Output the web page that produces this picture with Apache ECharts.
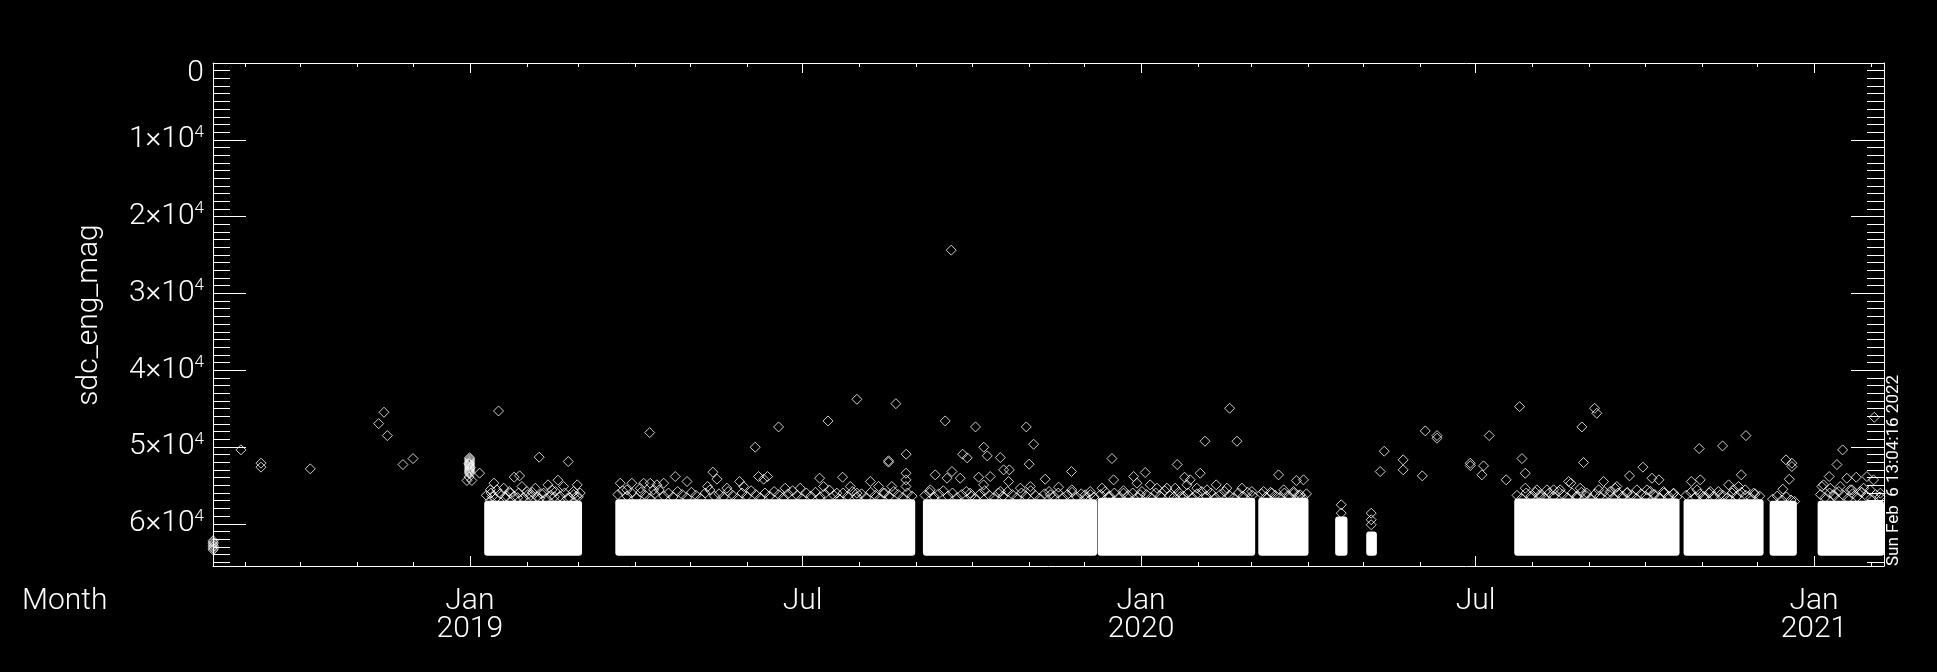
<!DOCTYPE html>
<html>
<head>
<meta charset="utf-8">
<script src="https://cdn.jsdelivr.net/npm/echarts@6/dist/echarts.min.js"></script>
<style>
html,body{margin:0;padding:0;background:#000;}
#chart{width:1937px;height:672px;}
</style>
</head>
<body>
<div id="chart"></div>
<script>
// ---------------- DATA ----------------
// x positions are "days since 2019-01-01 (UTC)"
const DAY0 = Date.UTC(2019, 0, 1);
const xMinDay = -139.7;   // 2018-08-14
const xMaxDay = 769.1;    // 2021-02-08
const yMin = 0;
const yMax = 65500;

// Dense data blocks (the solid white regions)
const blockStartDay = [7.8, 79.1, 246.4, 341.4, 428.8, 470.6, 487.5, 568.0, 660.1, 706.9, 733.0];
const blockEndDay   = [61.0, 242.2, 341.1, 427.1, 456.1, 477.3, 493.3, 657.9, 703.6, 721.7, 769.1];
const blockTop      = [57000, 56800, 56800, 56600, 56600, 59050, 61000, 56700, 56800, 57000, 57000];
const blockBottom   = [64150, 64150, 64150, 64150, 64150, 64150, 64150, 64150, 64150, 64150, 64150];

// Isolated diamonds [day, value]
const outlierPoints = [
  [-139.6,62200],[-139.6,62400],[-139.6,62600],[-139.6,62800],[-139.6,63000],[-139.6,63200],[-139.6,63400],
  [-124.5,50380],[-113.6,52110],[-113.6,52630],[-86.8,52850],
  [-49.6,46960],[-46.7,45480],[-44.9,48520],[-36.4,52290],[-30.9,51510],
  [-0.15,51400],[-0.15,51550],[-0.15,51700],[-0.15,51850],[-0.15,52000],[-0.15,52150],[-0.15,52300],
  [-0.15,52450],[-0.15,52600],[-0.15,52750],[-0.15,52900],[-0.15,53050],[-0.15,53200],[-0.15,53350],
  [-0.15,53500],[-0.6,52200],[0.3,52700],[-0.5,53900],[-1.6,54370],[1.1,54370],
  [5.3,53410],[15.6,45310],[37.7,51330],[53.5,51900],[47.9,54320],[58.4,54930],[42.5,54930],
  [13.1,54710],[11.1,55580],[12.2,56450],[11.1,56970],[24.1,53930],[27.05,53760],[97.8,48130],
  [261.8,24370],[210.5,43790],[231.7,44360],[194.8,46610],[167.9,47390],[155.2,50030],
  [258.5,46610],[275,47390],[302.6,47390],[306.6,49640],[279.5,50030],[281.4,51160],
  [268,50940],[270.5,51420],[288.5,51380],[304.2,52240],[290.3,52980],[293.4,52980],
  [327.2,53200],[237.3,50940],[227.7,51980],[227.7,51800],
  [413.2,44960],[399.8,49250],[417.2,49250],[349.2,51510],[384.7,52290],[397.2,53420],
  [388.7,53940],[391.8,54280],[439.8,53630],[449.5,54370],[453.4,54280],
  [473.9,57530],[473.9,58620],[490.2,58620],[490.2,59480],[490.2,60130],
  [497.3,50550],[495.1,53200],[507.6,51680],[507.6,52980],[518,53760],[519.6,47910],
  [526,48520],[526,48860],[544.1,52110],[544.1,52420],[551.3,52460],[550.4,53630],[554.4,48520],
  [563.6,54280],[570.9,44750],[572.2,51510],[574,53420],[574,55370],[604.8,47390],[605.7,52030],
  [611.7,44960],[612.9,45610],[630.7,53760],[638,52630],[597.6,54500],[598.8,54720],[616.6,54500],
  [642.9,54070],[646.7,54280],[623.8,55150],[668.6,50210],[681.3,49860],[694,48520],[691.5,53630],
  [664.3,54500],[669.2,54280],[684.6,54930],[690,55150],[715.8,51680],[719,52110],[719,52550],
  [717.6,54200],[714.1,55500],[746.6,50380],[743.5,52290],[739.3,53850],[736.2,54930],[763.8,46130],
  [748.9,54070],[754,53940],[759.8,53850],[763.4,54280],[751.7,55580],[758,55370]
];

// Diamonds forming the ragged upper edge of the dense blocks [day, value]
const edgePoints = [
  [18.4,55370],[22,56020],[28.3,55150],[31,55800],[35.6,55370],[40.1,56020],[44.6,55580],
  [51,55150],[56.4,55800],[14.7,55580],[20,56400],[26,56600],[33,56300],[38,56700],[46,56500],
  [53,56700],[58,56400],[60,56000],
  [81.8,54720],[88.1,54720],[94.5,54720],[98.1,54720],[101.7,54930],[85.4,55580],[92.7,55370],[99.9,55580],
  [105.4,54715],[111.7,53848],[118.1,54498],[129.3,55149],[132.2,53285],[134.4,54195],[139.8,55365],
  [146.7,54498],[148.9,55149],[157,53848],[159.8,54195],[161.9,53848],[171.5,55365],[179.7,55365],
  [190.2,54065],[192.4,55149],[199.6,56016],[202.7,53935],[206.9,55149],[210.5,56016],[217.8,54498],
  [222.3,55149],[225,56016],[229.5,55149],[237.2,53415],[237.2,54282],[237.2,55149],[250.4,55582],
  [253.1,53631],[259.5,54065],[262.2,53198],[266.7,54065],[272.1,56016],[276.7,53935],[279.4,54932],
  [283,53848],[288.5,55799],[293,54498],[299.4,55365],[304.8,55149],[312.9,54195],[315.7,56232],
  [320.2,55235],[327.4,55582],[334.7,56232],[337.4,55799],
  [343.8,55365],[350.1,54282],[355.5,56016],[361,53848],[362.8,54715],[367.3,53328],[370,54932],
  [373.7,55365],[379.1,55365],[383.6,55365],[390,54932],[395.4,55365],[400.9,55582],[405.9,54932],
  [411.7,55365],[419.9,55365],[425.3,55799],[431.7,55799],[436.2,56016],[442.6,55582],[448,56016],
  [451.6,56232],[347.4,56449],[364.6,56232],[386.4,56449],
  [580.3,55580],[585.8,55580],[589.4,55580],[593,55580],[603.9,55370],[607.5,56020],[613.9,55580],
  [620.2,55800],[622.9,55370],[629.3,56020],[634.7,55580],[640.2,55580],[643.8,56230],[649.2,55800],
  [654.7,56020],[602.1,56450],[582.1,56450],
  [667.4,55580],[674.6,55800],[680,56230],[687.3,55580],[693.6,55580],[698.2,56020],[671,56450],[685.5,56880],
  [735.3,55150],[739.9,55370],[745.3,55150],[750.8,55580],[756.2,55800],[761.6,55580],[767.1,56020],[741.7,56230]
];

// Densest layer of diamonds just above the solid blocks [day, value]
const bandPoints = [
  [9,56300],[11.5,56000],[14,56700],[16.5,56100],[19,56500],[21.5,55800],[24,56400],[26.5,56000],[29,56600],
  [31.5,56200],[34,55900],[36.5,56500],[39,56100],[41.5,56700],[44,56300],[46.5,55800],[49,56400],[51.5,56000],
  [54,56600],[56.5,56200],[59,56500],
  [80.5,56200],[83,55700],[85.5,56400],[88,56000],[90.5,56600],[93,55900],[95.5,56300],[98,56700],[100.5,56100],
  [103,55600],[105.5,56400],[108,56000],[110.5,56500],[113,55800],[115.5,56200],[118,56600],[120.5,55900],
  [123,56300],[125.5,56700],[128,56000],[130.5,55600],[133,56400],[135.5,56100],[138,56500],[140.5,55800],
  [143,56300],[145.5,56700],[148,56000],[150.5,56400],[153,55700],[155.5,56200],[158,56600],[160.5,56000],
  [163,56400],[165.5,55800],[168,56200],[170.5,56600],[173,56100],[175.5,55700],[178,56300],[180.5,56700],
  [183,56000],[185.5,56400],[188,55900],[190.5,56500],[193,56100],[195.5,55600],[198,56300],[200.5,56700],
  [203,56000],[205.5,56400],[208,55800],[210.5,56500],[213,56100],[215.5,56600],[218,55900],[220.5,56300],
  [223,56700],[225.5,56000],[228,56400],[230.5,55800],[233,56200],[235.5,56600],[238,56000],[240.5,56400],
  [247.5,56300],[250,55900],[252.5,56500],[255,56100],[257.5,55700],[260,56400],[262.5,56000],[265,56600],
  [267.5,56200],[270,55800],[272.5,56400],[275,56700],[277.5,56100],[280,55700],[282.5,56300],[285,56600],
  [287.5,56000],[290,56400],[292.5,55800],[295,56200],[297.5,56600],[300,56000],[302.5,56400],[305,55700],
  [307.5,56300],[310,56700],[312.5,56100],[315,55800],[317.5,56400],[320,56000],[322.5,56600],[325,56200],
  [327.5,55900],[330,56500],[332.5,56100],[335,56600],[337.5,56200],[339.5,56500],
  [343,56200],[345.5,55800],[348,56400],[350.5,56000],[353,56600],[355.5,55700],[358,56300],[360.5,56000],
  [363,56500],[365.5,55800],[368,56200],[370.5,56600],[373,56000],[375.5,56400],[378,55700],[380.5,56300],
  [383,56500],[385.5,55900],[388,56400],[390.5,56000],[393,56600],[395.5,56100],[398,55800],[400.5,56400],
  [403,56000],[405.5,56600],[408,56200],[410.5,55800],[413,56300],[415.5,56600],[418,56000],[420.5,56400],
  [423,55900],[425.5,56300],
  [430.5,56100],[433,56500],[435.5,55900],[438,56300],[440.5,56600],[443,56000],[445.5,56400],[448,55800],
  [450.5,56300],[453,56600],[455,56100],
  [569.5,56300],[572,56700],[574.5,56000],[577,56400],[579.5,55900],[582,56200],[584.5,56600],[587,56000],
  [589.5,56400],[592,55800],[594.5,56200],[597,56600],[599.5,56000],[602,56400],[604.5,55900],[607,56300],
  [609.5,56700],[612,56100],[614.5,56400],[617,55800],[619.5,56200],[622,56600],[624.5,56000],[627,56400],
  [629.5,55900],[632,56300],[634.5,56700],[637,56100],[639.5,56400],[642,55800],[644.5,56200],[647,56600],
  [649.5,56000],[652,56400],[654.5,56100],[656.5,56500],
  [661.5,56300],[664,55900],[666.5,56500],[669,56100],[671.5,56600],[674,56000],[676.5,56400],[679,55800],
  [681.5,56300],[684,56600],[686.5,56000],[689,56400],[691.5,55900],[694,56300],[696.5,56600],[699,56100],
  [701.5,56400],
  [708.5,56800],[711,56400],[713.5,56900],[716,56500],[718.5,56900],[720.5,57100],
  [734.5,56200],[737,56600],[739.5,56000],[742,56400],[744.5,55800],[747,56300],[749.5,56700],[752,56100],
  [754.5,56500],[757,55900],[759.5,56400],[762,56700],[764.5,56200],[767,56500]
];

// Tick labels
const yTickValues = [0, 10000, 20000, 30000, 40000, 50000, 60000];
const xLabelDates = ['2019-01-01', '2019-07-01', '2020-01-01', '2020-07-01', '2021-01-01'];
const xLabelTexts = ['Jan\n2019', 'Jul', 'Jan\n2020', 'Jul', 'Jan\n2021'];
const yAxisTitle = 'sdc_eng_mag';
const xAxisTitle = 'Month';
const stampText = 'Sun Feb  6 13:04:16 2022';

// ---------------- BUILD ----------------
const ts = d => DAY0 + d * 86400000;
const xMin = ts(xMinDay), xMax = ts(xMaxDay);
const monthTicks = [];
for (let y = 2018; y <= 2021; y++) {
  for (let m = 0; m < 12; m++) {
    const t = Date.UTC(y, m, 1);
    if (t > xMin && t < xMax) monthTicks.push(t);
  }
}
const xLabelTs = xLabelDates.map(s => Date.parse(s + 'T00:00:00Z'));
const yMinorTicks = [];
for (let v = 1000; v < yMax; v += 1000) if (v % 10000) yMinorTicks.push(v);

const FONT = 'Roboto, "DejaVu Sans", sans-serif';
const WHITE = '#ffffff';

function xAxisDef(position, ticks, len, withLine, withLabel) {
  return {
    type: 'value', min: xMin, max: xMax, position: position,
    axisLine: { show: withLine, onZero: false, lineStyle: { color: WHITE, width: 1 } },
    axisTick: { show: true, inside: true, length: len, customValues: ticks, lineStyle: { color: WHITE, width: 1 } },
    axisLabel: withLabel ? {
      show: true, customValues: xLabelTs, color: WHITE, fontFamily: FONT, fontSize: 30, fontWeight: 300,
      lineHeight: 28, margin: 21,
      formatter: v => { const i = xLabelTs.indexOf(v); return i >= 0 ? xLabelTexts[i] : ''; }
    } : { show: false },
    splitLine: { show: false }
  };
}
function yAxisDef(position, ticks, len, withLine, withLabel) {
  return {
    type: 'value', min: yMin, max: yMax, inverse: true, position: position,
    axisLine: { show: withLine, onZero: false, lineStyle: { color: WHITE, width: 1 } },
    axisTick: { show: true, inside: true, length: len, customValues: ticks, lineStyle: { color: WHITE, width: 1 } },
    axisLabel: withLabel ? {
      show: true, customValues: yTickValues, margin: 9, align: 'right',
      formatter: v => v === 0 ? '{z|0}' : '{m|' + (v / 10000) + '×10}{s|4}',
      rich: {
        z: { fontFamily: FONT, fontSize: 30, fontWeight: 300, color: WHITE, lineHeight: 32, padding: [20, 0, 0, 0] },
        m: { fontFamily: FONT, fontSize: 30, fontWeight: 300, color: WHITE, lineHeight: 32 },
        s: { fontFamily: FONT, fontSize: 17, fontWeight: 300, color: WHITE, lineHeight: 17, verticalAlign: 'top' }
      }
    } : { show: false },
    splitLine: { show: false }
  };
}

const diamondStyle = { color: 'rgba(0,0,0,0)', borderColor: WHITE, borderWidth: 1 };
const scatterDef = pts => ({
  type: 'scatter', xAxisIndex: 0, yAxisIndex: 0, symbol: 'diamond', symbolSize: 10,
  itemStyle: diamondStyle, data: pts.map(p => [ts(p[0]), p[1]])
});

const option = {
  backgroundColor: '#000000',
  animation: false,
  grid: { left: 213, right: 53, top: 63, bottom: 106 },
  xAxis: [
    xAxisDef('bottom', monthTicks, 4, true, true),
    xAxisDef('bottom', xLabelTs, 10, false, false),
    xAxisDef('top', monthTicks, 4, true, false),
    xAxisDef('top', xLabelTs, 10, false, false)
  ],
  yAxis: [
    yAxisDef('left', yTickValues, 33, true, true),
    yAxisDef('left', yMinorTicks, 17, false, false),
    yAxisDef('right', yTickValues, 33, true, false),
    yAxisDef('right', yMinorTicks, 17, false, false)
  ],
  series: [
    {
      type: 'custom', xAxisIndex: 0, yAxisIndex: 0, clip: true,
      encode: { x: [0, 1], y: [2, 3] },
      data: blockStartDay.map((s, i) => [ts(s), ts(blockEndDay[i]), blockTop[i], blockBottom[i]]),
      renderItem: (params, api) => {
        const p0 = api.coord([api.value(0), api.value(2)]);
        const p1 = api.coord([api.value(1), api.value(3)]);
        return { type: 'rect', shape: { x: p0[0], y: p0[1], width: p1[0] - p0[0], height: p1[1] - p0[1], r: 3 },
                 style: { fill: WHITE } };
      }
    },
    scatterDef(bandPoints),
    scatterDef(edgePoints),
    scatterDef(outlierPoints)
  ],
  graphic: [
    { type: 'text', x: 22, y: 601,
      style: { text: xAxisTitle, fill: WHITE, fontFamily: FONT, fontSize: 30, fontWeight: 300, align: 'left', verticalAlign: 'middle' } },
    { type: 'text', x: 89, y: 315, rotation: Math.PI / 2,
      style: { text: yAxisTitle, fill: WHITE, fontFamily: FONT, fontSize: 30, fontWeight: 300, align: 'center', verticalAlign: 'middle' } },
    { type: 'text', x: 1894, y: 566, rotation: Math.PI / 2,
      style: { text: stampText, fill: WHITE, fontFamily: FONT, fontSize: 17, align: 'left', verticalAlign: 'middle' } }
  ]
};

const chart = echarts.init(document.getElementById('chart'), null, { renderer: 'canvas' });
chart.setOption(option);
</script>
</body>
</html>
